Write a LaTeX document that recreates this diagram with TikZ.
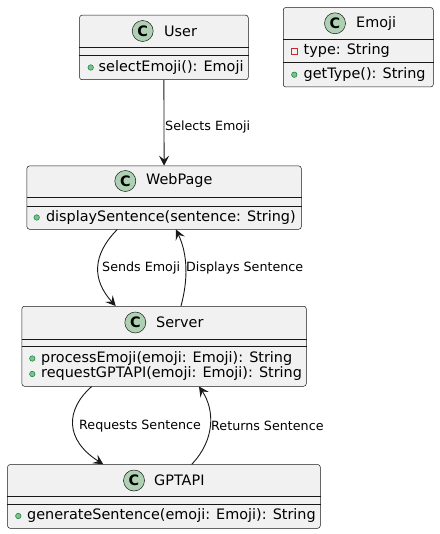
\documentclass[tikz,border=0pt]{standalone}
\usepackage{fontspec}
\setmainfont{DejaVu Sans}
\usetikzlibrary{arrows.meta}
\definecolor{boxfill}{HTML}{F1F1F1}
\definecolor{boxline}{HTML}{181818}
\definecolor{spotfill}{HTML}{ADD1B2}
\definecolor{pubfill}{HTML}{84BE84}
\definecolor{publine}{HTML}{038048}
\definecolor{privline}{HTML}{C82930}
\tikzset{
  classbox/.style={draw=boxline, fill=boxfill, line width=0.5pt, rounded corners=2.5pt, anchor=north west, inner sep=0pt},
  sepline/.style={draw=boxline, line width=0.5pt},
  spot/.style={circle, draw=boxline, fill=spotfill, line width=0.5pt, minimum size=21pt, inner sep=0pt, font=\fontsize{14.4}{16}\selectfont\bfseries},
  cname/.style={anchor=west, inner sep=0pt, font=\fontsize{14.4}{16}\selectfont},
  member/.style={anchor=west, inner sep=0pt, font=\fontsize{14.4}{16}\selectfont},
  pub/.style={circle, draw=publine, fill=pubfill, line width=0.5pt, minimum size=5.5pt, inner sep=0pt},
  priv/.style={rectangle, draw=privline, line width=0.7pt, minimum size=6pt, inner sep=0pt},
  elabel/.style={anchor=west, inner sep=0pt, font=\fontsize{12.7}{15}\selectfont},
  arr/.style={draw=boxline, line width=0.9pt, -{Stealth[length=10pt,width=10pt,inset=4pt]}}
}
\begin{document}
\begin{tikzpicture}[x=1pt,y=-1pt]
\useasboundingbox (0,0) rectangle (439,534);

% User
\node[classbox, minimum width=168.7pt, minimum height=64.5pt] (user) at (79.3,15) {};
\draw[sepline] ([yshift=-32pt]user.north west) -- ([yshift=-32pt]user.north east);
\draw[sepline] ([yshift=-40pt]user.north west) -- ([yshift=-40pt]user.north east);
\node[spot] (userc) at (142.7,31) {C};
\node[cname] (usern) at (164,31) {User};
\node[pub] (userb1) at (90.7,67.5) {};
\node[member] (userm1) at (98.5,67.5) {selectEmoji(): Emoji};

% Emoji
\node[classbox, minimum width=150pt, minimum height=79.4pt] (emoji) at (283,7.3) {};
\draw[sepline] ([yshift=-32pt]emoji.north west) -- ([yshift=-32pt]emoji.north east);
\draw[sepline] ([yshift=-55.4pt]emoji.north west) -- ([yshift=-55.4pt]emoji.north east);
\node[spot] (emojic) at (335,23.3) {C};
\node[cname] (emojin) at (356,23.3) {Emoji};
\node[priv] (emojib1) at (294.3,51) {};
\node[member] (emojia1) at (303.5,51) {type: String};
\node[pub] (emojib2) at (294.3,74.7) {};
\node[member] (emojim1) at (303.5,74.7) {getType(): String};

% WebPage
\node[classbox, minimum width=274.3pt, minimum height=63.3pt] (web) at (26.7,165.7) {};
\draw[sepline] ([yshift=-31.6pt]web.north west) -- ([yshift=-31.6pt]web.north east);
\draw[sepline] ([yshift=-40.3pt]web.north west) -- ([yshift=-40.3pt]web.north east);
\node[spot] (webc) at (125.3,181) {C};
\node[cname] (webn) at (146,181) {WebPage};
\node[pub] (webb1) at (36.7,217.5) {};
\node[member] (webm1) at (45.8,217.5) {displaySentence(sentence: String)};

% Server
\node[classbox, minimum width=284.3pt, minimum height=80pt] (server) at (21.7,306) {};
\draw[sepline] ([yshift=-33pt]server.north west) -- ([yshift=-33pt]server.north east);
\draw[sepline] ([yshift=-40.7pt]server.north west) -- ([yshift=-40.7pt]server.north east);
\node[spot] (serverc) at (135.3,322.5) {C};
\node[cname] (servern) at (156,322.5) {Server};
\node[pub] (serverb1) at (32.3,358.5) {};
\node[member] (serverm1) at (41,358.5) {processEmoji(emoji: Emoji): String};
\node[pub] (serverb2) at (32.3,374) {};
\node[member] (serverm2) at (41,374) {requestGPTAPI(emoji: Emoji): String};

% GPTAPI
\node[classbox, minimum width=312.7pt, minimum height=63.7pt] (gpt) at (7.3,464.3) {};
\draw[sepline] ([yshift=-32.4pt]gpt.north west) -- ([yshift=-32.4pt]gpt.north east);
\draw[sepline] ([yshift=-39.7pt]gpt.north west) -- ([yshift=-39.7pt]gpt.north east);
\node[spot] (gptc) at (134,480.5) {C};
\node[cname] (gptn) at (154,480.5) {GPTAPI};
\node[pub] (gptb1) at (18.3,516) {};
\node[member] (gptm1) at (27,516) {generateSentence(emoji: Emoji): String};

% connectors
\draw[arr] (user.south) -- (web.north);
\node[elabel] (l1) at (165,126.7) {Selects Emoji};

\draw[arr] ([xshift=90.6pt]web.south west) .. controls (92,255) and (92,280) .. ([xshift=94pt]server.north west);
\node[elabel] (l2) at (102,267.7) {Sends Emoji};

\draw[arr] ([xshift=159.3pt]server.north west) .. controls (188,280) and (188,255) .. ([xshift=149.3pt]web.south west);
\node[elabel] (l3) at (186,267.7) {Displays Sentence};

\draw[arr] ([xshift=70pt]server.south west) .. controls (65,410) and (65,440) .. ([xshift=96pt]gpt.north west);
\node[elabel] (l4) at (79,425.7) {Requests Sentence};

\draw[arr] ([xshift=184.4pt]gpt.north west) .. controls (215,440) and (215,410) .. ([xshift=177.3pt]server.south west);
\node[elabel] (l5) at (211,425.7) {Returns Sentence};
\end{tikzpicture}
\end{document}
